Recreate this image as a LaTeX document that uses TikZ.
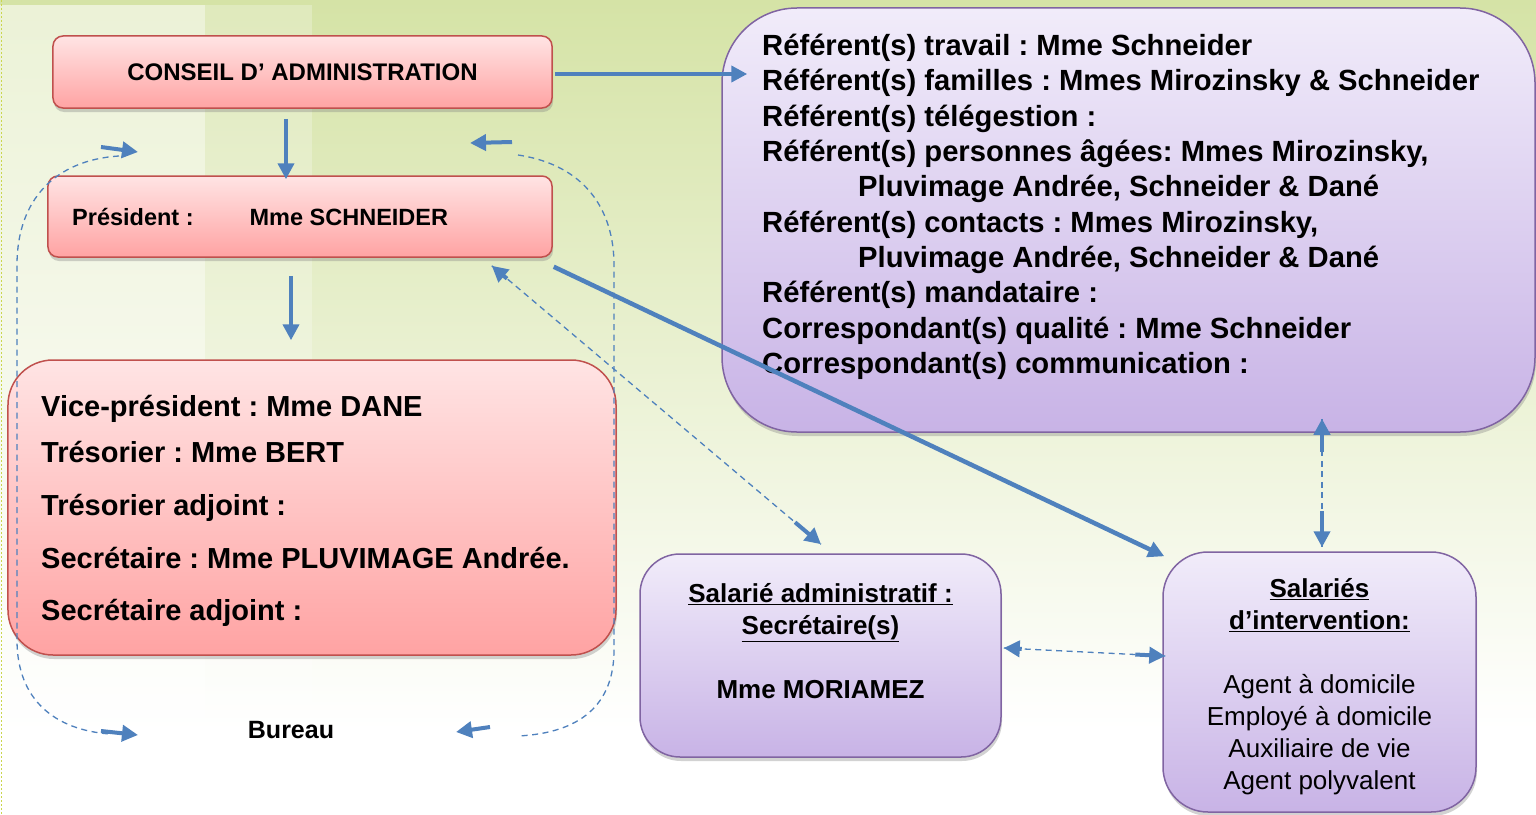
\documentclass[tikz,border=0pt]{standalone}
\usepackage{fontspec}
\setmainfont{Liberation Sans}
\usetikzlibrary{arrows.meta,shadows,calc}
\definecolor{arrowblue}{HTML}{4F81BD}
\definecolor{redborder}{HTML}{C0504D}
\definecolor{redtop}{HTML}{FFE4E4}
\definecolor{redbot}{HTML}{FFA3A3}
\definecolor{purpborder}{HTML}{8064A2}
\definecolor{purptop}{HTML}{F1ECFA}
\definecolor{purpbot}{HTML}{C8B3E6}
\definecolor{bggreen}{HTML}{D5E3A6}
\definecolor{edgeyellow}{HTML}{CAD64E}
\frenchspacing
\begin{document}
\begin{tikzpicture}[x=1bp,y=-1bp,
  boxshadow/.style={drop shadow={opacity=0.35,shadow xshift=1bp,shadow yshift=-4bp}},
  redbox/.style={draw=redborder,line width=1.5bp,top color=redtop,bottom color=redbot,inner sep=0,boxshadow},
  purpbox/.style={draw=purpborder,line width=1.5bp,top color=purptop,bottom color=purpbot,inner sep=0,boxshadow},
  bluearrow/.style={draw=arrowblue,line width=4bp,-{Triangle[length=16bp,width=16bp]}},
  dashlink/.style={draw=arrowblue,line width=1.3bp,dash pattern=on 6bp off 4.5bp},
  boldtext/.style={inner sep=0,font=\bfseries\fontsize{#1}{#1}\selectfont},
]
\useasboundingbox (0,0) rectangle (1536,814);
% background
\fill[white] (0,0) rectangle (1536,814);
\shade[top color=bggreen,bottom color=white] (0,0) rectangle (1536,730);
\fill[white,opacity=0.55] (0,5) rectangle (205,814);
\fill[white,opacity=0.25] (205,5) rectangle (312,814);
\draw[edgeyellow,line width=1.5bp,dash pattern=on 2bp off 2bp] (1.5,0) -- (1.5,814);

% boxes
\node[redbox,rounded corners=10bp,minimum width=499bp,minimum height=72bp,
      font=\bfseries\fontsize{24bp}{24bp}\selectfont] (ca) at (302.5,72) {CONSEIL D’ ADMINISTRATION};
\node[redbox,rounded corners=10bp,minimum width=504bp,minimum height=81bp] (pres) at (300,216.5) {};
\node[boldtext=23.5bp,anchor=west] (prestext) at (72,217) {Président :\hspace{56bp}Mme SCHNEIDER};
\node[redbox,rounded corners=45bp,minimum width=608bp,minimum height=295bp] (bur) at (312,507.5) {};
\node[inner sep=0,anchor=north west,align=left,font=\bfseries\fontsize{29bp}{46bp}\selectfont] (burtext) at (41,395)
  {Vice-président : Mme DANE\\
   Trésorier : Mme BERT\\[7bp]
   Trésorier adjoint :\\[7bp]
   Secrétaire : Mme PLUVIMAGE Andrée.\\[6bp]
   Secrétaire adjoint :};

\node[purpbox,rounded corners=75bp,minimum width=813bp,minimum height=424bp] (ref) at (1128.5,220) {};
\node[inner sep=0,anchor=north west,align=left,font=\bfseries\fontsize{29.2bp}{35.3bp}\selectfont] (reftext) at (762,34)
  {Référent(s) travail : Mme Schneider\\
   Référent(s) familles : Mmes Mirozinsky \& Schneider\\
   Référent(s) télégestion :\\
   Référent(s) personnes âgées: Mmes Mirozinsky,\\
   \hspace*{96bp}Pluvimage Andrée, Schneider \& Dané\\
   Référent(s) contacts : Mmes Mirozinsky,\\
   \hspace*{96bp}Pluvimage Andrée, Schneider \& Dané\\
   Référent(s) mandataire :\\
   Correspondant(s) qualité : Mme Schneider\\
   Correspondant(s) communication :};

\node[purpbox,rounded corners=40bp,minimum width=361bp,minimum height=203bp] (adm) at (820.5,655.5) {};
\node[inner sep=0,anchor=north,align=center,font=\bfseries\fontsize{26bp}{32bp}\selectfont] (admtext) at (820.5,583)
  {\underline{Salarié administratif :}\\
   \underline{Secrétaire(s)}\\[32bp]
   Mme MORIAMEZ};

\node[purpbox,rounded corners=45bp,minimum width=313bp,minimum height=260bp] (sal) at (1319.5,682) {};
\node[inner sep=0,anchor=north,align=center,font=\bfseries\fontsize{26bp}{32bp}\selectfont] (saltext) at (1319.5,578.5)
  {\underline{Salariés}\\
   \underline{d’intervention:}\\[32bp]
   {\mdseries Agent à domicile}\\
   {\mdseries Employé à domicile}\\
   {\mdseries Auxiliaire de vie}\\
   {\mdseries Agent polyvalent}};

\node[boldtext=25bp] (bureau) at (291,730) {Bureau};

% solid connectors
\draw[bluearrow] ([shift={(2,2)}]ca.east) -- ([shift={(26,2)}]ca.east -| ref.west);
\draw[bluearrow] ([shift={(-16.5,10)}]ca.south) -- ([shift={(-14,4)}]pres.north);
\draw[bluearrow] ([shift={(-9,18)}]pres.south) -- ([shift={(-21,-19)}]bur.north);
\draw[bluearrow,line width=4.5bp] ([shift={(1,9)}]pres.south east) -- ([shift={(2,5)}]sal.north west);

% dashed two-way connectors
\coordinate (dA) at ([shift={(-61,8)}]pres.south east);
\coordinate (dB) at ([shift={(0.5,-9)}]adm.north);
\draw[dashlink] (dA) -- (dB);
\draw[bluearrow] ($(dA)!20bp!(dB)$) -- (dA);
\draw[bluearrow] ($(dB)!34bp!(dA)$) -- (dB);

\coordinate (vA) at ([shift={(193.5,-14)}]ref.south);
\coordinate (vB) at ([shift={(2.5,-4)}]sal.north);
\draw[dashlink] (vA) -- (vB);
\draw[bluearrow] ($(vA)!33bp!(vB)$) -- (vA);
\draw[bluearrow] ($(vB)!36bp!(vA)$) -- (vB);

\coordinate (hA) at ([shift={(2,-7.5)}]adm.east);
\coordinate (hB) at ([shift={(3,-26)}]sal.west);
\draw[dashlink] (hA) -- (hB);
\draw[bluearrow] ($(hA)!18bp!(hB)$) -- (hA);
\draw[bluearrow] ($(hB)!30bp!(hA)$) -- (hB);

% bureau brackets
\coordinate (lt) at (119,156);
\coordinate (lb) at (110,734);
\coordinate (rt) at (518,155);
\coordinate (rb) at (518,736);
\draw[dashlink] (lt) .. controls (55,160) and (17,200) .. (17,265) -- (17,640) .. controls (17,700) and (55,730) .. (lb);
\draw[dashlink] (rt) .. controls (585,165) and (614,210) .. (614,265) -- (614,650) .. controls (614,705) and (580,733) .. (rb);
\coordinate (tl1) at (101,147); \coordinate (tl2) at (138,152);
\coordinate (bl1) at (101,731); \coordinate (bl2) at (138,735);
\coordinate (tr1) at (512,142); \coordinate (tr2) at (470,143);
\coordinate (br1) at (490,727); \coordinate (br2) at (456,732);
\draw[bluearrow] (tl1) -- (tl2);
\draw[bluearrow] (bl1) -- (bl2);
\draw[bluearrow] (tr1) -- (tr2);
\draw[bluearrow] (br1) -- (br2);
\end{tikzpicture}
\end{document}
